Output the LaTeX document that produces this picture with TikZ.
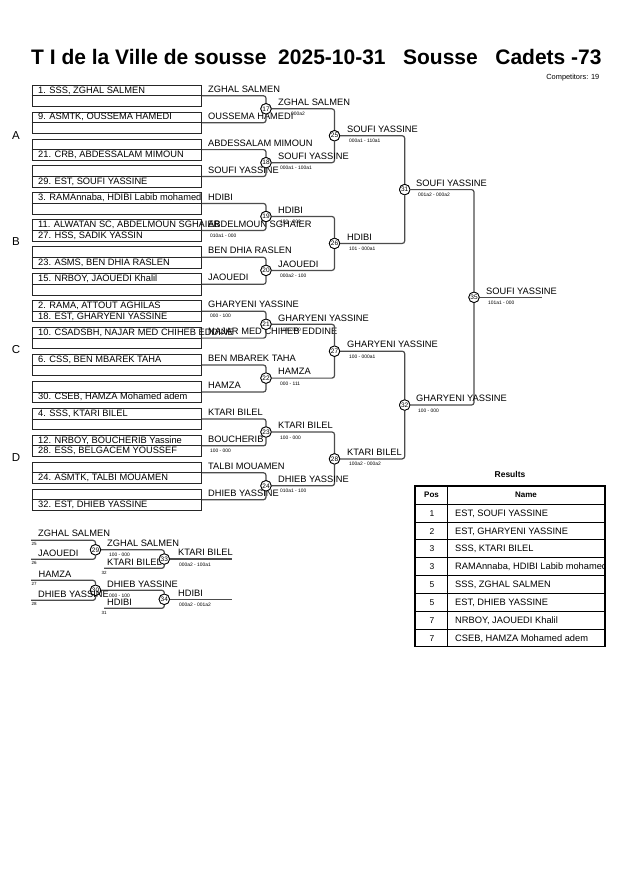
\documentclass[tikz,border=0pt]{standalone}
\usepackage{fontspec}
\setmainfont{Liberation Sans}
\begin{document}
\begin{tikzpicture}[x=1pt,y=-1pt,
  entry/.style={draw=black!85,line width=0.8pt,rectangle,anchor=north west,minimum width=169.5pt,minimum height=21.3pt,inner sep=0pt},
  midline/.style={draw=black!85,line width=0.8pt},
  bline/.style={draw=black!70,line width=1.2pt,rounded corners=2.5pt},
  mc/.style={circle,draw=black,line width=0.8pt,fill=white,inner sep=0pt,minimum size=10.5pt,font=\fontsize{6.5}{7}\selectfont},
  nm/.style={anchor=base west,inner sep=0pt,font=\fontsize{9.3}{11}\selectfont},
  sc/.style={anchor=base west,inner sep=0pt,font=\fontsize{4.9}{5}\selectfont},
  tiny/.style={anchor=base west,inner sep=0pt,font=\fontsize{4.5}{5}\selectfont},
  grp/.style={anchor=center,inner sep=0pt,font=\fontsize{11.5}{13}\selectfont},
  tb/.style={anchor=center,inner sep=0pt,font=\bfseries\fontsize{8}{9}\selectfont},
  tn/.style={anchor=base west,inner sep=0pt,font=\fontsize{9.3}{10}\selectfont},
]
\useasboundingbox[fill=white] (0,0) rectangle (630,891);

% title
\node[anchor=base west,inner sep=0pt,font=\bfseries\fontsize{21}{24}\selectfont] (title) at (31,65) {T I de la Ville de sousse\ \ 2025-10-31\ \ \ Sousse\ \ \ Cadets -73};
\node[anchor=base east,inner sep=0pt,font=\fontsize{7.4}{8}\selectfont] (comp) at (599.5,79) {Competitors: 19};

% group letters
\node[grp] (gA) at (16,136) {A};
\node[grp] (gB) at (16,242) {B};
\node[grp] (gC) at (16,350) {C};
\node[grp] (gD) at (16,458) {D};

% entry boxes
\foreach \i in {0,...,15} {
  \pgfmathsetmacro\tp{84.7+26.93*\i}
  \node[entry] (b\i) at (31.5,\tp) {};
  \draw[midline] (b\i.west) -- (b\i.east);
}
% top-row texts
\foreach \i/\txt in {0/{1. SSS, ZGHAL SALMEN},1/{9. ASMTK, OUSSEMA HAMEDI},4/{3. RAMAnnaba, HDIBI Labib mohamed},5/{11. ALWATAN SC, ABDELMOUN SGHAIER},7/{15. NRBOY, JAOUEDI Khalil},8/{2. RAMA, ATTOUT AGHILAS},9/{10. CSADSBH, NAJAR MED CHIHEB EDDINE},10/{6. CSS, BEN MBAREK TAHA},12/{4. SSS, KTARI BILEL},13/{12. NRBOY, BOUCHERIB Yassine}} {
  \pgfmathsetmacro\yy{84.7+26.93*\i+8.3}
  \node[nm] (bt\i) at (38,\yy) {\txt};
}
% bottom-row texts
\foreach \i/\txt in {2/{21. CRB, ABDESSALAM MIMOUN},3/{29. EST, SOUFI YASSINE},5/{27. HSS, SADIK YASSIN},6/{23. ASMS, BEN DHIA RASLEN},8/{18. EST, GHARYENI YASSINE},11/{30. CSEB, HAMZA Mohamed adem},13/{28. ESS, BELGACEM YOUSSEF},14/{24. ASMTK, TALBI MOUAMEN},15/{32. EST, DHIEB YASSINE}} {
  \pgfmathsetmacro\yy{84.7+26.93*\i+19}
  \node[nm] (bb\i) at (38,\yy) {\txt};
}
% column 2 names
\foreach \i/\txt in {0/{ZGHAL SALMEN},1/{OUSSEMA HAMEDI},2/{ABDESSALAM MIMOUN},3/{SOUFI YASSINE},4/{HDIBI},5/{ABDELMOUN SGHAIER},6/{BEN DHIA RASLEN},7/{JAOUEDI},8/{GHARYENI YASSINE},9/{NAJAR MED CHIHEB EDDINE},10/{BEN MBAREK TAHA},11/{HAMZA},12/{KTARI BILEL},13/{BOUCHERIB},14/{TALBI MOUAMEN},15/{DHIEB YASSINE}} {
  \pgfmathsetmacro\yy{84.7+26.93*\i+10.65-3}
  \node[nm] (cn\i) at (208,\yy) {\txt};
}
% preliminary scores
\foreach \i/\txt in {5/{010a1 - 000},8/{000 - 100},13/{100 - 000}} {
  \pgfmathsetmacro\yy{84.7+26.93*\i+10.65+7}
  \node[sc] (ps\i) at (210,\yy) {\txt};
}

% round 1 circles
\node[mc] (m17) at (266,108.8) {17};
\node[mc] (m18) at (266,162.7) {18};
\node[mc] (m19) at (266,216.5) {19};
\node[mc] (m20) at (266,270.4) {20};
\node[mc] (m21) at (266,324.3) {21};
\node[mc] (m22) at (266,378.1) {22};
\node[mc] (m23) at (266,432.0) {23};
\node[mc] (m24) at (266,485.8) {24};
% round 2
\node[mc] (m25) at (334.5,135.75) {25};
\node[mc] (m26) at (334.5,243.45) {26};
\node[mc] (m27) at (334.5,351.2) {27};
\node[mc] (m28) at (334.5,458.9) {28};
% round 3
\node[mc] (m31) at (404.7,189.6) {31};
\node[mc] (m32) at (404.7,405.05) {32};
% final
\node[mc] (m35) at (474,297.3) {35};
\coordinate (fin) at (541.7,297.3);

% connectors
\draw[bline] (b0.east) -| (m17); \draw[bline] (b1.east) -| (m17);
\draw[bline] (b2.east) -| (m18); \draw[bline] (b3.east) -| (m18);
\draw[bline] (b4.east) -| (m19); \draw[bline] (b5.east) -| (m19);
\draw[bline] (b6.east) -| (m20); \draw[bline] (b7.east) -| (m20);
\draw[bline] (b8.east) -| (m21); \draw[bline] (b9.east) -| (m21);
\draw[bline] (b10.east) -| (m22); \draw[bline] (b11.east) -| (m22);
\draw[bline] (b12.east) -| (m23); \draw[bline] (b13.east) -| (m23);
\draw[bline] (b14.east) -| (m24); \draw[bline] (b15.east) -| (m24);
\draw[bline] (m17) -| (m25); \draw[bline] (m18) -| (m25);
\draw[bline] (m19) -| (m26); \draw[bline] (m20) -| (m26);
\draw[bline] (m21) -| (m27); \draw[bline] (m22) -| (m27);
\draw[bline] (m23) -| (m28); \draw[bline] (m24) -| (m28);
\draw[bline] (m25) -| (m31); \draw[bline] (m26) -| (m31);
\draw[bline] (m27) -| (m32); \draw[bline] (m28) -| (m32);
\draw[bline] (m31) -| (m35); \draw[bline] (m32) -| (m35);
\draw[bline] (m35) -- (fin);
% redraw circles on top
\foreach \n in {17,18,19,20,21,22,23,24,25,26,27,28,31,32,35} {
  \node[mc] at (m\n) {\n};
}

% winners and scores
\node[nm] (w17) at (278,105.5) {ZGHAL SALMEN};   \node[sc] (s17) at (291,115.8) {000a2};
\node[nm] (w18) at (278,159.4) {SOUFI YASSINE};  \node[sc] (s18) at (280,169.7) {000a1 - 100a1};
\node[nm] (w19) at (278,213.2) {HDIBI};          \node[sc] (s19) at (280,223.5) {100 - 000};
\node[nm] (w20) at (278,267.1) {JAOUEDI};        \node[sc] (s20) at (280,277.4) {000a2 - 100};
\node[nm] (w21) at (278,321.0) {GHARYENI YASSINE}; \node[sc] (s21) at (280,331.3) {100 - 000};
\node[nm] (w22) at (278,374.8) {HAMZA};          \node[sc] (s22) at (280,385.1) {000 - 111};
\node[nm] (w23) at (278,428.7) {KTARI BILEL};    \node[sc] (s23) at (280,439.0) {100 - 000};
\node[nm] (w24) at (278,482.5) {DHIEB YASSINE};  \node[sc] (s24) at (280,492.8) {010a1 - 100};
\node[nm] (w25) at (347,132.45) {SOUFI YASSINE}; \node[sc] (s25) at (349,142.75) {000a1 - 110a1};
\node[nm] (w26) at (347,240.15) {HDIBI};         \node[sc] (s26) at (349,250.45) {101 - 000a1};
\node[nm] (w27) at (347,347.9) {GHARYENI YASSINE}; \node[sc] (s27) at (349,358.2) {100 - 000a1};
\node[nm] (w28) at (347,455.6) {KTARI BILEL};    \node[sc] (s28) at (349,465.9) {100a2 - 000a2};
\node[nm] (w31) at (416,186.3) {SOUFI YASSINE};  \node[sc] (s31) at (418,196.6) {001a2 - 000a2};
\node[nm] (w32) at (416,401.75) {GHARYENI YASSINE}; \node[sc] (s32) at (418,412.05) {100 - 000};
\node[nm] (w35) at (486,294.0) {SOUFI YASSINE};  \node[sc] (s35) at (488,304.3) {101a1 - 000};

% repechage
\coordinate (r25) at (31,540.3);
\coordinate (r26) at (31,559.3);
\coordinate (r32) at (104,568.3);
\coordinate (r27) at (31,580.3);
\coordinate (r28) at (31,600.3);
\coordinate (r31) at (104,608.3);
\coordinate (e33) at (232,559.05);
\coordinate (e34) at (232,599.3);
\node[mc] (m29) at (95.5,549.8) {29};
\node[mc] (m33) at (164.3,559.05) {33};
\node[mc] (m30) at (95.5,590.3) {30};
\node[mc] (m34) at (164.3,599.3) {34};
\draw[bline] (r25) -| (m29); \draw[bline] (r26) -| (m29);
\draw[bline] (m29) -| (m33); \draw[bline] (r32) -| (m33);
\draw[bline] (m33) -- (e33);
\draw[bline] (r27) -| (m30); \draw[bline] (r28) -| (m30);
\draw[bline] (m30) -| (m34); \draw[bline] (r31) -| (m34);
\draw[bline] (m34) -- (e34);
\foreach \n in {29,30,33,34} { \node[mc] at (m\n) {\n}; }

\node[nm] (q1) at (38,536.8) {ZGHAL SALMEN};
\node[nm] (q2) at (38,556.3) {JAOUEDI};
\node[tiny] (n25) at (31.5,545.8) {25};
\node[tiny] (n26) at (31.5,564.8) {26};
\node[nm] (q3) at (107,546.5) {ZGHAL SALMEN};
\node[sc] (q3s) at (109,556.8) {100 - 000};
\node[nm] (q4) at (107,565.3) {KTARI BILEL};
\node[tiny] (n32) at (101.5,574.5) {32};
\node[nm] (q5) at (178,555.8) {KTARI BILEL};
\node[sc] (q5s) at (179,566.3) {000a2 - 100a1};

\node[nm] (q6) at (38.5,577.3) {HAMZA};
\node[nm] (q7) at (38,597.3) {DHIEB YASSINE};
\node[tiny] (n27) at (31.5,585.8) {27};
\node[tiny] (n28) at (31.5,605.8) {28};
\node[nm] (q8) at (107,587.0) {DHIEB YASSINE};
\node[sc] (q8s) at (109,597.3) {000 - 100};
\node[nm] (q9) at (107,605.3) {HDIBI};
\node[tiny] (n31) at (101.5,614.5) {31};
\node[nm] (q10) at (178,596.0) {HDIBI};
\node[sc] (q10s) at (179,606.6) {000a2 - 001a2};

% results table
\node[anchor=base,inner sep=0pt,font=\bfseries\fontsize{8.5}{10}\selectfont] (restitle) at (510,477.3) {Results};
\node[tb] (hpos) at (431.5,495) {Pos};
\node[tb] (hname) at (526,495) {Name};
\foreach \k in {1,...,7} {
  \pgfmathsetmacro\yy{504+17.84*\k}
  \draw[line width=0.6pt] (415,\yy) -- (605,\yy);
}
\draw[line width=1pt] (415,504) -- (605,504);
\draw[line width=0.8pt] (447.5,486) -- (447.5,646.7);
\draw[line width=1.4pt] (415,486) rectangle (605,646.7);
\foreach \k/\p/\txt in {0/1/{EST, SOUFI YASSINE},1/2/{EST, GHARYENI YASSINE},2/3/{SSS, KTARI BILEL},3/3/{RAMAnnaba, HDIBI Labib mohamed},4/5/{SSS, ZGHAL SALMEN},5/5/{EST, DHIEB YASSINE},6/7/{NRBOY, JAOUEDI Khalil},7/7/{CSEB, HAMZA Mohamed adem}} {
  \pgfmathsetmacro\yy{504+17.84*\k+12.2}
  \node[anchor=base,inner sep=0pt,font=\fontsize{8.5}{10}\selectfont] (rp\k) at (432,\yy) {\p};
  \begin{scope}
    \clip (448,486) rectangle (604,646);
    \node[tn] (rn\k) at (455,\yy) {\txt};
  \end{scope}
}
\end{tikzpicture}
\end{document}
